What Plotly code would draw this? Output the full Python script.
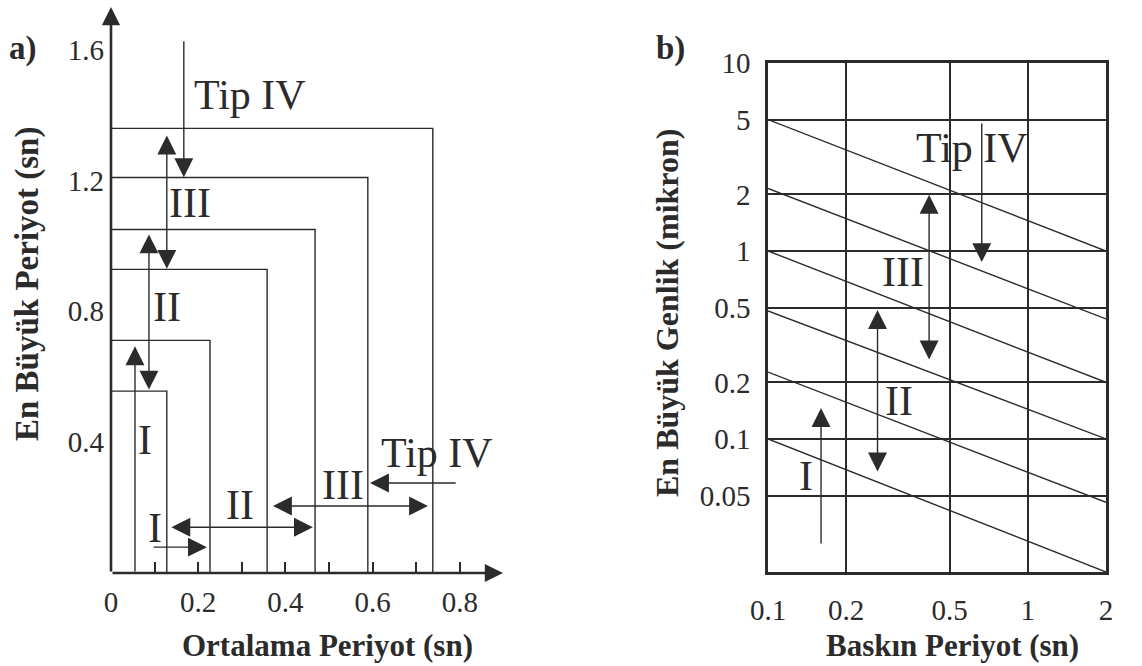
import numpy as np
import plotly.graph_objects as go

W, H = 1142, 666
FONT = "Liberation Serif"
INK = "#2b2b2b"

# ---------------- Panel a) data ----------------
a_xticks = [0, 0.2, 0.4, 0.6, 0.8]
a_xticktext = ["0", "0.2", "0.4", "0.6", "0.8"]
a_xminor = [0.1, 0.3, 0.5, 0.7]
a_yticks = [0.4, 0.8, 1.2, 1.6]
a_yticktext = ["0.4", "0.8", "1.2", "1.6"]
# nested boundaries: mean period limit (x) and max period limit (y)
rect_x = [0.738, 0.589, 0.468, 0.358, 0.227, 0.128]
rect_y = [1.359, 1.209, 1.050, 0.928, 0.711, 0.556]
# vertical arrows: x, y_from, y_to, both-heads
a_varrows_x = [0.055, 0.087, 0.128, 0.167]
a_varrows_y0 = [0.0, 0.556, 0.925, 1.63]
a_varrows_y1 = [0.693, 1.035, 1.337, 1.21]
a_varrows_both = [False, True, True, False]
# horizontal arrows: y, x_from, x_to, both-heads
a_harrows_y = [0.079, 0.140, 0.205, 0.275]
a_harrows_x0 = [0.094, 0.135, 0.368, 0.794]
a_harrows_x1 = [0.220, 0.463, 0.727, 0.594]
a_harrows_both = [False, True, True, False]
a_labels = ["Tip IV", "III", "II", "I", "I", "II", "III", "Tip IV"]
a_label_x = [0.319, 0.181, 0.128, 0.078, 0.101, 0.296, 0.532, 0.747]
a_label_y = [1.46, 1.13, 0.812, 0.406, 0.137, 0.208, 0.269, 0.366]

# ---------------- Panel b) data ----------------
b_xticks = [0.1, 0.2, 0.5, 1, 2]
b_xticktext = ["0.1", "0.2", "0.5", "1", "2"]
b_yticks = [0.05, 0.1, 0.2, 0.5, 1, 2, 5, 10]
b_yticktext = ["0.05", "0.1", "0.2", "0.5", "1", "2", "5", "10"]
b_line_x = [0.1, 2.0]
b_line_left = [5.0, 2.15, 1.0, 0.48, 0.227, 0.1]
b_line_right = [1.0, 0.435, 0.2, 0.1, 0.046, 0.0196]
b_arrow_x = [0.665, 0.417, 0.264, 0.160]
b_arrow_y0 = [4.85, 0.26, 0.066, 0.0273]
b_arrow_y1 = [0.873, 1.99, 0.485, 0.146]
b_arrow_both = [False, True, True, False]
b_labels = ["Tip IV", "III", "II", "I"]
b_label_x = [0.608, 0.330, 0.319, 0.140]
b_label_y = [3.53, 0.773, 0.159, 0.0636]

fig = go.Figure()

for rx, ry in zip(rect_x, rect_y):
    fig.add_trace(go.Scatter(x=[0, rx, rx], y=[ry, ry, 0], mode="lines",
                             line=dict(color=INK, width=1.4), hoverinfo="skip",
                             showlegend=False, xaxis="x", yaxis="y"))

for yl, yr in zip(b_line_left, b_line_right):
    fig.add_trace(go.Scatter(x=b_line_x, y=[yl, yr], mode="lines",
                             line=dict(color=INK, width=1.4), hoverinfo="skip",
                             showlegend=False, xaxis="x2", yaxis="y2"))

annotations = []

def arrow(x, y, ax, ay, xref, yref, both, width=1.4, size=2.7):
    annotations.append(dict(
        x=x, y=y, ax=ax, ay=ay, xref=xref, yref=yref, axref=xref, ayref=yref,
        text="", showarrow=True, arrowhead=2, arrowsize=size, arrowwidth=width,
        arrowcolor=INK, arrowside="end+start" if both else "end", standoff=0,
        startstandoff=0, startarrowhead=2, startarrowsize=size))

arrow(0.899, 0, 0, 0, "x", "y", False, width=2.6, size=1.4)
arrow(0, 1.73, 0, 0, "x", "y", False, width=2.6, size=1.4)

for x, y0, y1, b in zip(a_varrows_x, a_varrows_y0, a_varrows_y1, a_varrows_both):
    arrow(x, y1, x, y0, "x", "y", b)
for y, x0, x1, b in zip(a_harrows_y, a_harrows_x0, a_harrows_x1, a_harrows_both):
    arrow(x1, y, x0, y, "x", "y", b)

for t, x, y in zip(a_labels, a_label_x, a_label_y):
    annotations.append(dict(x=x, y=y, xref="x", yref="y", text=t, showarrow=False,
                            font=dict(family=FONT, size=42, color=INK)))

for x, y0, y1, b in zip(b_arrow_x, b_arrow_y0, b_arrow_y1, b_arrow_both):
    lx = float(np.log10(x))
    arrow(lx, float(np.log10(y1)), lx, float(np.log10(y0)), "x2", "y2", b)

for t, x, y in zip(b_labels, b_label_x, b_label_y):
    annotations.append(dict(x=float(np.log10(x)), y=float(np.log10(y)), xref="x2", yref="y2",
                            text=t, showarrow=False,
                            font=dict(family=FONT, size=42, color=INK)))

def ptext(t, px, py, size, bold=True, angle=0):
    annotations.append(dict(x=px / W, y=1 - py / H, xref="paper", yref="paper",
                            text=f"<b>{t}</b>" if bold else t, showarrow=False,
                            textangle=angle, xanchor="center", yanchor="middle",
                            font=dict(family=FONT, size=size, color=INK)))

ptext("a)", 23, 49, 33)
ptext("b)", 670, 48, 33)
ptext("Ortalama Periyot (sn)", 327, 645, 31)
ptext("Baskın Periyot (sn)", 952, 645, 31)
ptext("En Büyük Periyot (sn)", 28, 284, 33, angle=-90)
ptext("En Büyük Genlik (mikron)", 667, 313, 32, angle=-90)

tickfont = dict(family=FONT, size=29, color=INK)

fig.update_layout(
    width=W, height=H, margin=dict(l=0, r=0, t=0, b=0, pad=0, autoexpand=False),
    font=dict(family=FONT, color=INK),
    paper_bgcolor="white", plot_bgcolor="rgba(0,0,0,0)",
    showlegend=False, annotations=annotations,
    xaxis=dict(domain=[111 / W, 503 / W], range=[0, 0.899], showgrid=False,
               zeroline=False, showline=False, tickmode="array",
               tickvals=a_xticks, ticktext=a_xticktext, ticks="inside",
               ticklen=11, tickwidth=1.5, tickcolor=INK, tickfont=tickfont,
               ticklabelstandoff=9, automargin=False,
               minor=dict(tickvals=a_xminor, ticks="inside",
                          ticklen=11, tickwidth=1.5, tickcolor=INK),
               anchor="y"),
    yaxis=dict(domain=[93 / H, 659 / H], range=[0, 1.73], showgrid=False,
               zeroline=False, showline=False, tickmode="array",
               tickvals=a_yticks, ticktext=a_yticktext, ticks="",
               tickfont=tickfont, ticklabelstandoff=6, automargin=False,
               anchor="x"),
    xaxis2=dict(domain=[768 / W, 1106 / W], type="log",
                range=[-1, float(np.log10(2))], tickmode="array",
                tickvals=b_xticks, ticktext=b_xticktext, ticks="",
                showgrid=True, gridcolor=INK, gridwidth=1.5,
                showline=True, linecolor=INK, linewidth=2.6, mirror=True,
                zeroline=False, tickfont=tickfont, ticklabelstandoff=10,
                automargin=False, anchor="y2"),
    yaxis2=dict(domain=[94 / H, 603 / H], type="log",
                range=[float(np.log10(0.0196)), 1], tickmode="array",
                tickvals=b_yticks, ticktext=b_yticktext, ticks="",
                showgrid=True, gridcolor=INK, gridwidth=1.5,
                showline=True, linecolor=INK, linewidth=2.6, mirror=True,
                zeroline=False, tickfont=tickfont, ticklabelstandoff=9,
                automargin=False, anchor="x2"),
)

fig.write_html("out.html")
